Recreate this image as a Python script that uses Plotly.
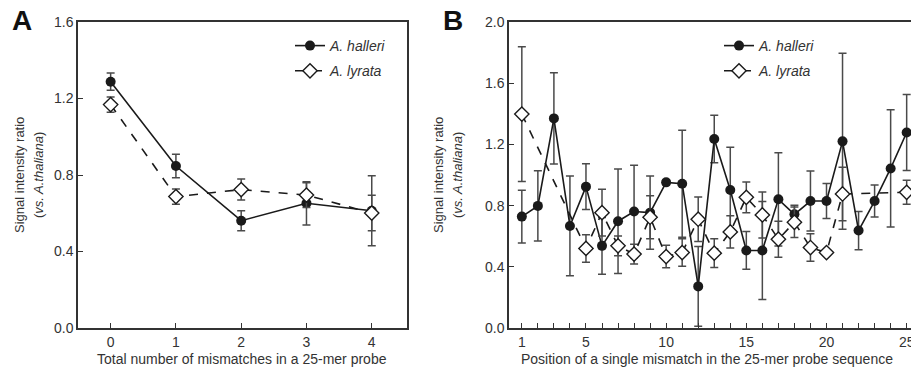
import plotly.graph_objects as go

# ---- Panel A data ----
mismatch_n = [0, 1, 2, 3, 4]
a_halleri = [1.288, 0.847, 0.561, 0.652, 0.613]
a_halleri_err = [0.045, 0.061, 0.052, 0.113, 0.183]
a_lyrata = [1.168, 0.687, 0.724, 0.695, 0.601]
a_lyrata_err = [0.040, 0.040, 0.055, 0.065, 0.093]

# ---- Panel B data ----
position = list(range(1, 26))
b_halleri = [0.728, 0.798, 1.370, 0.667, 0.924, 0.537, 0.698, 0.761, 0.754, 0.952,
             0.943, 0.272, 1.235, 0.902, 0.507, 0.507, 0.841, 0.743, 0.830, 0.830,
             1.220, 0.637, 0.830, 1.043, 1.278]
b_halleri_err = [0.172, 0.230, 0.298, 0.326, 0.150, 0.185, 0.342, 0.302, 0.240, 0.015,
                 0.350, 0.260, 0.155, 0.280, 0.123, 0.320, 0.305, 0.060, 0.196, 0.115,
                 0.575, 0.125, 0.104, 0.383, 0.248]
b_lyrata = [1.398, None, None, None, 0.520, 0.754, 0.537, 0.483, 0.724, 0.467,
            0.493, 0.711, 0.489, 0.628, 0.854, 0.739, 0.580, 0.691, 0.526, 0.493,
            0.876, None, None, None, 0.887]
b_lyrata_err = [0.441, None, None, None, 0.090, 0.153, 0.065, 0.065, 0.140, 0.074,
                0.090, 0.145, 0.094, 0.105, 0.100, 0.150, 0.118, 0.100, 0.090, 0.010,
                0.175, None, None, None, 0.078]

b_ticklabels = ["1", "", "", "", "5", "", "", "", "", "10", "", "", "", "", "15",
                "", "", "", "", "20", "", "", "", "", "25"]

a_xtitle = "Total number of mismatches in a 25-mer probe"
b_xtitle = "Position of a single mismatch in the 25-mer probe sequence"
ytitle_l1 = "Signal intensity ratio"
ytitle_l2 = "(<i>vs. A.thaliana</i>)"

INK = "#1a1a1a"
ERR = "#4a4a4a"
TXT = "#333333"
FONT = "Liberation Sans"

fig = go.Figure()

def add_pair(x, yh, eh, yl, el, xa, ya, leg):
    fig.add_trace(go.Scatter(
        x=x, y=yh, mode="lines+markers", name="<i>A. halleri</i>",
        line=dict(color=INK, width=1.6),
        marker=dict(symbol="circle", size=10, color=INK),
        error_y=dict(type="data", array=eh, visible=True, color=ERR, thickness=1.5, width=4),
        xaxis=xa, yaxis=ya, legend=leg, legendgroup="h" + leg))
    fig.add_trace(go.Scatter(
        x=x, y=yl, mode="lines+markers", name="<i>A. lyrata</i>",
        line=dict(color=INK, width=1.6, dash="dash"),
        marker=dict(symbol="diamond", size=11, color="white", line=dict(color=INK, width=1.4)),
        error_y=dict(type="data", array=el, visible=True, color=ERR, thickness=1.5, width=4),
        connectgaps=True,
        xaxis=xa, yaxis=ya, legend=leg, legendgroup="l" + leg))

add_pair(mismatch_n, a_halleri, a_halleri_err, a_lyrata, a_lyrata_err, "x", "y", "legend")
add_pair(position, b_halleri, b_halleri_err, b_lyrata, b_lyrata_err, "x2", "y2", "legend2")

W, H = 911, 369
T, B = 22, 41
PH = H - T - B
axis_common = dict(showline=True, linecolor="#333333", linewidth=1.5, ticks="inside",
                   ticklen=5, tickwidth=1.3, tickcolor="#333333", showgrid=False, zeroline=False,
                   automargin=False, ticklabeloverflow="allow",
                   tickfont=dict(family=FONT, size=14, color=TXT))

fig.update_layout(
    width=W, height=H,
    margin=dict(l=0, r=0, t=T, b=B, autoexpand=False),
    paper_bgcolor="white", plot_bgcolor="white",
    font=dict(family=FONT, color=TXT),
    xaxis=dict(domain=[78 / W, 407 / W], range=[-0.5, 4.54], tickvals=mismatch_n,
               mirror=True, anchor="y", **axis_common),
    yaxis=dict(domain=[0, 1], range=[0, 1.6], tickvals=[0, 0.4, 0.8, 1.2, 1.6], tickformat=".1f",
               mirror=True, anchor="x", **axis_common),
    xaxis2=dict(domain=[509 / W, 1.0], range=[0.2, 25.27], tickvals=position, ticktext=b_ticklabels,
                mirror=True, anchor="y2", **axis_common),
    yaxis2=dict(domain=[0, 1], range=[0, 2.0], tickvals=[0, 0.4, 0.8, 1.2, 1.6, 2.0], tickformat=".1f",
                anchor="x2", **axis_common),
    legend=dict(x=290 / W, xanchor="left", y=1 - 8 / PH, yanchor="top",
                bgcolor="rgba(0,0,0,0)", font=dict(family=FONT, size=14, color=TXT),
                traceorder="grouped", tracegroupgap=4, itemwidth=30),
    legend2=dict(x=719 / W, xanchor="left", y=1 - 8 / PH, yanchor="top",
                 bgcolor="rgba(0,0,0,0)", font=dict(family=FONT, size=14, color=TXT),
                 traceorder="grouped", tracegroupgap=4, itemwidth=30),
    showlegend=True,
)

def ann(text, px, py, size, angle=0, color=TXT):
    fig.add_annotation(text=text, x=px / W, y=1 - (py - T) / PH, xref="paper", yref="paper",
                       xanchor="center", yanchor="middle", showarrow=False, textangle=angle,
                       font=dict(family=FONT, size=size, color=color))

ann("<b>A</b>", 22, 20, 28, color="#111111")
ann("<b>B</b>", 453, 20, 28, color="#111111")
ann(a_xtitle, 242, 359, 14)
ann(b_xtitle, 707, 359, 14)
ann(ytitle_l1, 19, 175, 13, angle=-90)
ann(ytitle_l2, 38, 175, 13, angle=-90)
ann(ytitle_l1, 438, 175, 13, angle=-90)
ann(ytitle_l2, 457, 175, 13, angle=-90)

fig.write_html("out.html", config={"displayModeBar": False},
               post_script="document.body.style.margin='0px';")
